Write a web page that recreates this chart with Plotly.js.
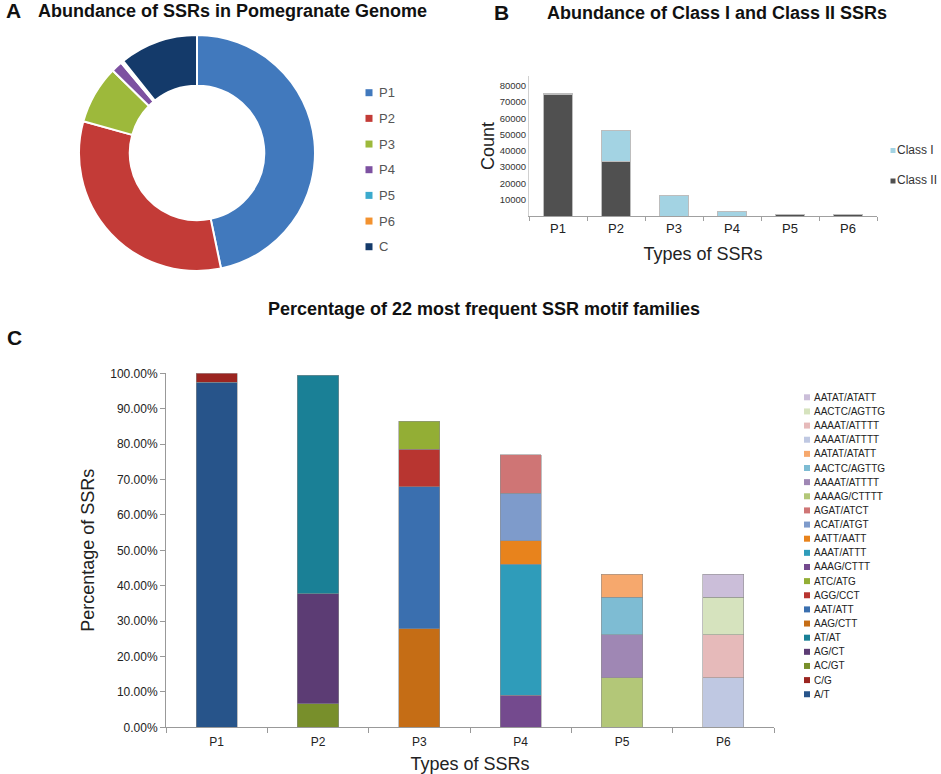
<!DOCTYPE html>
<html><head><meta charset="utf-8">
<script src="https://cdn.plot.ly/plotly-3.0.1.min.js"></script>
<style>html,body{margin:0;padding:0;background:#fff}#chart{width:941px;height:774px}</style>
</head><body><div id="chart"></div>
<script>
// ---------- Panel A data ----------
const pieLabels = ['P1', 'P2', 'P3', 'P4', 'P5', 'P6', 'C'];
const pieValues = [76000, 53000, 13000, 2500, 450, 150, 17500];
const pieColors = ['#4179BD', '#C33B37', '#9DB93B', '#7D51A1', '#3BAACD', '#F3922F', '#143A6A'];

// ---------- Panel B data ----------
const bCats = ['P1', 'P2', 'P3', 'P4', 'P5', 'P6'];
const classI = [1000, 19000, 12900, 2600, 0, 0];
const classII = [74500, 33300, 0, 0, 800, 800];
const bTicks = [10000, 20000, 30000, 40000, 50000, 60000, 70000, 80000];

// ---------- Panel C data ----------
const cCats = ['P1', 'P2', 'P3', 'P4', 'P5', 'P6'];
const motifNames = ['A/T', 'C/G', 'AC/GT', 'AG/CT', 'AT/AT', 'AAG/CTT', 'AAT/ATT', 'AGG/CCT', 'ATC/ATG',
  'AAAG/CTTT', 'AAAT/ATTT', 'AATT/AATT', 'ACAT/ATGT', 'AGAT/ATCT',
  'AAAAG/CTTTT', 'AAAAT/ATTTT', 'AACTC/AGTTG', 'AATAT/ATATT',
  'AAAAT/ATTTT', 'AAAAT/ATTTT', 'AACTC/AGTTG', 'AATAT/ATATT'];
const motifType = ['P1', 'P1', 'P2', 'P2', 'P2', 'P3', 'P3', 'P3', 'P3',
  'P4', 'P4', 'P4', 'P4', 'P4', 'P5', 'P5', 'P5', 'P5', 'P6', 'P6', 'P6', 'P6'];
const motifPct = [97.4, 2.6, 6.6, 31.1, 61.8, 27.8, 40.2, 10.5, 7.9,
  9.1, 37.0, 6.6, 13.4, 10.9, 14.0, 12.1, 10.6, 6.5, 14.0, 12.1, 10.6, 6.5];
const motifColors = ['#27548A', '#9B2520', '#788F2B', '#5C3C74', '#1A8096', '#C56D15', '#3A6FAF', '#B83530', '#93AE35',
  '#744A8E', '#2F9CBA', '#E8831C', '#7E9BCB', '#CF7575', '#B3C778', '#9F87B4', '#7EBCD3', '#F6A86D',
  '#BFC8E2', '#E6BABA', '#D6E3BE', '#CBBED9'];

// ---------- helpers ----------
const W = 941, H = 774;
const X = px => px / W;
const Y = py => 1 - py / H;
const FONT = 'Liberation Sans, Arial, sans-serif';

const traces = [];
traces.push({
  type: 'pie', labels: pieLabels, values: pieValues, hole: 0.57, sort: false,
  direction: 'clockwise', rotation: 0, textinfo: 'none', hoverinfo: 'label+value+percent',
  marker: {colors: pieColors, line: {color: '#ffffff', width: 2}},
  domain: {x: [X(79), X(315)], y: [Y(271), Y(35)]}, showlegend: false
});

traces.push({type: 'bar', name: 'Class II', x: bCats, y: classII, xaxis: 'x', yaxis: 'y', width: 0.5,
  marker: {color: '#505050', line: {color: '#BDBDBD', width: 1}}, showlegend: false});
traces.push({type: 'bar', name: 'Class I', x: bCats, y: classI, xaxis: 'x', yaxis: 'y', width: 0.5,
  marker: {color: '#A3D3E3', line: {color: '#BDBDBD', width: 1}}, showlegend: false});

for (let i = 0; i < motifNames.length; i++) {
  traces.push({type: 'bar', name: motifNames[i], x: [motifType[i]], y: [motifPct[i]], xaxis: 'x2', yaxis: 'y2',
    width: 0.405, marker: {color: motifColors[i], line: {color: 'rgba(140,140,140,0.7)', width: 0.8}}, showlegend: false});
}

const annotations = [];
const shapes = [];
function addText(text, px, py, size, bold, anchor, color) {
  annotations.push({text: bold ? '<b>' + text + '</b>' : text, x: X(px), y: Y(py), xref: 'paper', yref: 'paper',
    xanchor: anchor || 'left', yanchor: 'middle', showarrow: false,
    font: {size: size, family: FONT, color: color || '#111'}});
}
function addSwatch(color, px, py, half) {
  shapes.push({type: 'rect', xref: 'paper', yref: 'paper', xsizemode: 'pixel', ysizemode: 'pixel',
    xanchor: X(px), yanchor: Y(py), x0: -half, x1: half, y0: -half, y1: half,
    fillcolor: color, line: {width: 0}});
}

// panel letters and titles
addText('A', 4, 11, 21, true, 'left');
addText('Abundance of SSRs in Pomegranate Genome', 232, 11, 18, true, 'center');
addText('B', 492, 12, 21, true, 'left');
addText('Abundance of Class I and Class II SSRs', 717, 13, 18, true, 'center');
addText('Percentage of 22 most frequent SSR motif families', 484, 309, 18, true, 'center');
addText('C', 5, 338, 21, true, 'left');

// legend A
pieLabels.forEach((lab, i) => {
  const py = 92.7 + i * 25.67;
  addSwatch(pieColors[i], 369, py, 3.5);
  addText(lab, 377, py, 13, false, 'left', '#555');
});
// legend B
const bLegNames = ['Class I', 'Class II'];
const bLegColors = ['#A3D3E3', '#505050'];
bLegNames.forEach((lab, i) => {
  const py = 149.5 + i * 30.5;
  addSwatch(bLegColors[i], 893, py + 1, 2.5);
  addText(lab, 895, py, 12, false, 'left', '#333');
});
// legend C (reversed)
for (let i = motifNames.length - 1; i >= 0; i--) {
  const py = 397.3 + (motifNames.length - 1 - i) * 14.14;
  addSwatch(motifColors[i], 807, py, 3);
  addText(motifNames[i], 812, py, 10, false, 'left', '#222');
}

const layout = {
  width: W, height: H, margin: {l: 0, r: 0, t: 0, b: 0}, paper_bgcolor: '#fff', plot_bgcolor: 'rgba(0,0,0,0)',
  barmode: 'stack', showlegend: false, font: {family: FONT, color: '#222'},
  xaxis: {domain: [X(529), X(877)], anchor: 'y', type: 'category', showline: true, linecolor: '#A0A0A0',
    ticks: 'outside', tickson: 'boundaries', ticklen: 4, tickcolor: '#A0A0A0', showgrid: false,
    tickfont: {size: 13, family: FONT, color: '#222'},
    title: {text: 'Types of SSRs', font: {size: 18, family: FONT, color: '#222'}, standoff: 12}},
  yaxis: {domain: [Y(216), Y(76)], anchor: 'x', range: [0, 86000], tickvals: bTicks, tickformat: 'd', showgrid: false,
    zeroline: false, showline: true, linecolor: '#D0D0D0', ticks: '',
    tickfont: {size: 9.5, family: FONT, color: '#333'},
    title: {text: 'Count', font: {size: 18, family: FONT, color: '#222'}, standoff: 0}},
  xaxis2: {domain: [X(166), X(774)], anchor: 'y2', type: 'category', showline: true, linecolor: '#999',
    ticks: 'outside', tickson: 'boundaries', ticklen: 5, tickcolor: '#999', showgrid: false,
    ticklabelstandoff: 3,
    tickfont: {size: 12, family: FONT, color: '#222'},
    title: {text: 'Types of SSRs', font: {size: 18, family: FONT, color: '#222'}, standoff: 10}},
  yaxis2: {domain: [Y(727.3), Y(373.3)], anchor: 'x2', range: [0, 100], dtick: 10, tickformat: '.2f', ticksuffix: '%',
    showgrid: false, zeroline: false, showline: true, linecolor: '#999', ticks: 'outside', ticklen: 5, tickcolor: '#999',
    tickfont: {size: 12, family: FONT, color: '#222'},
    title: {text: 'Percentage of SSRs', font: {size: 18, family: FONT, color: '#222'}, standoff: 10}},
  annotations: annotations, shapes: shapes
};

Plotly.newPlot('chart', traces, layout, {staticPlot: true, displayModeBar: false});
</script>
</body></html>
